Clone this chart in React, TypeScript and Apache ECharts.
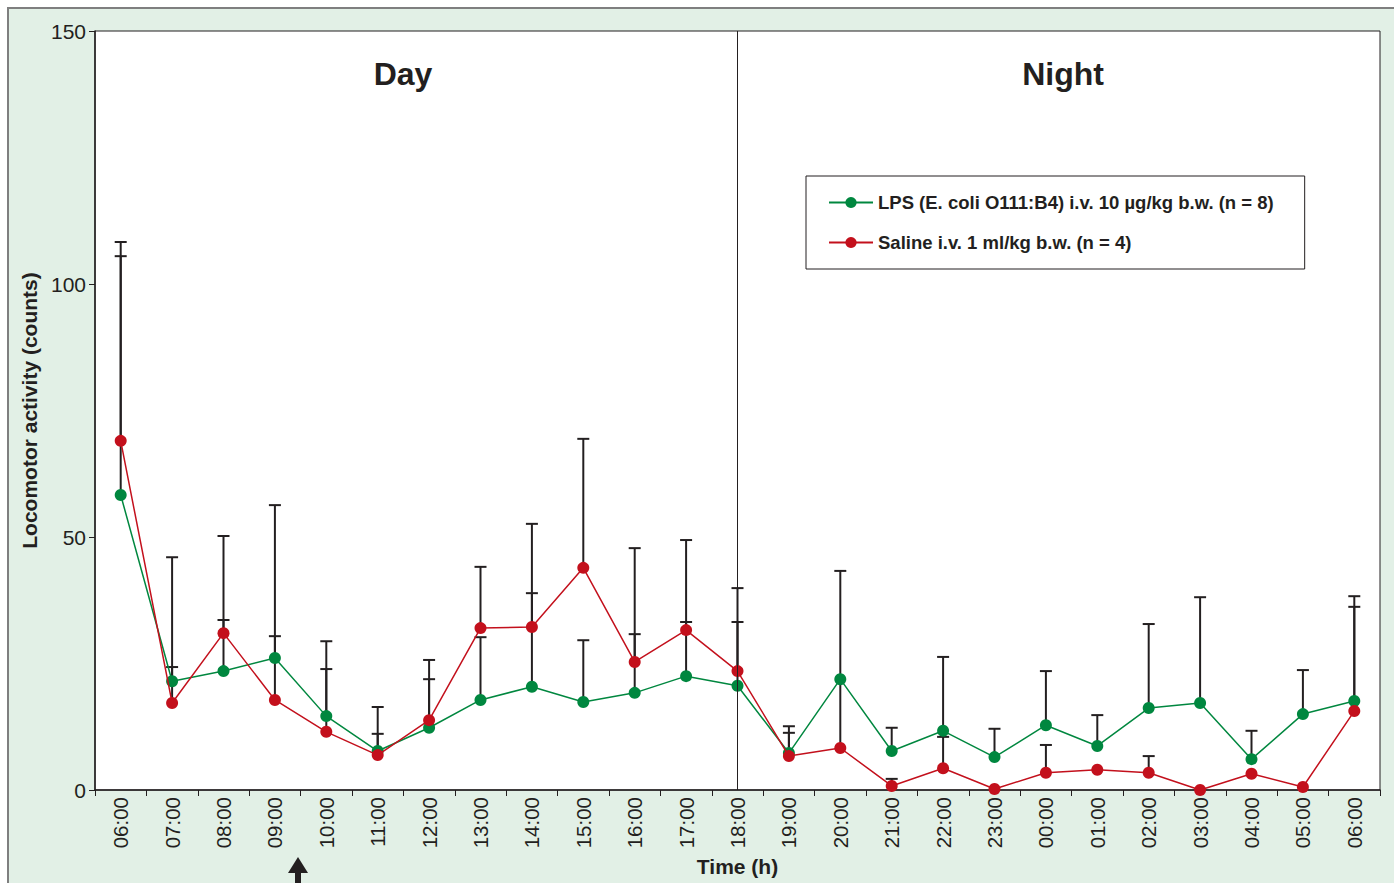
import React, { useEffect, useRef } from "react";
import * as echarts from "echarts";

const categories = [
  "06:00", "07:00", "08:00", "09:00", "10:00", "11:00", "12:00", "13:00", "14:00",
  "15:00", "16:00", "17:00", "18:00", "19:00", "20:00", "21:00", "22:00", "23:00",
  "00:00", "01:00", "02:00", "03:00", "04:00", "05:00", "06:00",
];

const lpsMean = [
  58.3, 21.5, 23.5, 26.1, 14.6, 7.7, 12.3, 17.8, 20.4, 17.4, 19.2, 22.5, 20.6,
  7.3, 21.9, 7.7, 11.7, 6.5, 12.8, 8.7, 16.2, 17.2, 6.1, 15.0, 17.6,
];
const lpsUpper: (number | null)[] = [
  105.5, 46.0, 33.6, 56.3, 29.4, 16.4, 21.9, 30.2, 38.9, 29.6, 30.8, 33.2, 33.2,
  12.6, null, 12.3, 26.3, 12.1, 23.5, 14.8, 32.8, 38.1, 11.7, 23.7, 38.3,
];

const salineMean = [
  69.0, 17.2, 31.0, 17.8, 11.5, 6.9, 13.8, 32.0, 32.2, 43.9, 25.3, 31.6, 23.5,
  6.7, 8.3, 0.8, 4.3, 0.2, 3.4, 4.0, 3.4, 0.0, 3.2, 0.6, 15.6,
];
const salineUpper: (number | null)[] = [
  108.3, 24.3, 50.2, 30.4, 23.9, 11.1, 25.7, 44.1, 52.6, 69.4, 47.8, 49.4, 39.9,
  11.3, 43.3, 2.2, 10.5, null, 8.9, null, 6.7, null, null, null, 36.2,
];

const yTicks = [0, 50, 100, 150];

const lpsName = "LPS (E. coli O111:B4) i.v. 10 µg/kg b.w. (n = 8)";
const salineName = "Saline i.v. 1 ml/kg b.w. (n = 4)";

const GREEN = "#00873f";
const RED = "#c3101c";
const INK = "#231f20";
const FONT = "Arial, 'Liberation Sans', Helvetica, sans-serif";

function errorData(mean: number[], upper: (number | null)[]) {
  const out: number[][] = [];
  mean.forEach((m, i) => {
    const u = upper[i];
    if (u !== null && u !== undefined) out.push([i, m, u]);
  });
  return out;
}

function errorRender(params: any, api: any) {
  const i = api.value(0);
  const p0 = api.coord([i, api.value(1)]);
  const p1 = api.coord([i, api.value(2)]);
  const half = 6;
  const st = { stroke: INK, lineWidth: 2 };
  return {
    type: "group",
    children: [
      { type: "line", shape: { x1: p0[0], y1: p0[1], x2: p1[0], y2: p1[1] }, style: st },
      { type: "line", shape: { x1: p1[0] - half, y1: p1[1], x2: p1[0] + half, y2: p1[1] }, style: st },
    ],
  };
}

export default function App() {
  const ref = useRef<HTMLDivElement>(null);
  useEffect(() => {
    if (!ref.current) return;
    const chart = echarts.init(ref.current, undefined, { renderer: "svg" });
    chart.setOption({
      animation: false,
      backgroundColor: "#ffffff",
      textStyle: { fontFamily: FONT, color: INK },
      graphic: [
        {
          type: "rect",
          z: -10,
          silent: true,
          shape: { x: 8, y: 8, width: 1400, height: 900 },
          style: { fill: "#e2f0e6", stroke: "#7f7f7f", lineWidth: 2 },
        },
        {
          type: "text",
          x: 403,
          y: 74,
          style: { text: "Day", font: `bold 32px ${FONT}`, fill: INK, align: "center", verticalAlign: "middle" },
        },
        {
          type: "text",
          x: 1063,
          y: 74,
          style: { text: "Night", font: `bold 32px ${FONT}`, fill: INK, align: "center", verticalAlign: "middle" },
        },
        {
          type: "polygon",
          shape: {
            points: [
              [298, 857], [308, 873], [301, 873], [301, 890], [295, 890], [295, 873], [288, 873],
            ],
          },
          style: { fill: INK },
        },
      ],
      grid: {
        left: 95,
        top: 31,
        width: 1285,
        height: 759,
        show: true,
        backgroundColor: "#ffffff",
        borderColor: INK,
        borderWidth: 1,
      },
      legend: {
        orient: "vertical",
        left: 806,
        top: 176,
        padding: [17, 31, 17, 22],
        itemGap: 21,
        itemWidth: 44,
        itemHeight: 14,
        backgroundColor: "#ffffff",
        borderColor: INK,
        borderWidth: 1,
        textStyle: { fontFamily: FONT, fontWeight: "bold", fontSize: 18.5, color: INK },
        data: [lpsName, salineName],
      },
      xAxis: {
        type: "category",
        data: categories,
        boundaryGap: true,
        name: "Time (h)",
        nameLocation: "middle",
        nameGap: 66,
        nameTextStyle: { fontFamily: FONT, fontWeight: "bold", fontSize: 21, color: INK },
        axisLine: { lineStyle: { color: INK, width: 1.5 } },
        axisTick: { show: true, length: 6, lineStyle: { color: INK }, alignWithLabel: false },
        axisLabel: { rotate: 90, fontSize: 20.5, color: INK, margin: 7, fontFamily: FONT, interval: 0 },
        splitLine: { show: false },
      },
      yAxis: {
        type: "value",
        min: 0,
        max: 150,
        interval: 50,
        name: "Locomotor activity (counts)",
        nameLocation: "middle",
        nameGap: 51,
        nameTextStyle: { fontFamily: FONT, fontWeight: "bold", fontSize: 21, color: INK },
        axisLine: { show: true, lineStyle: { color: INK, width: 1.5 } },
        axisTick: { show: true, length: 6, lineStyle: { color: INK } },
        axisLabel: {
          fontSize: 21,
          color: INK,
          margin: 9,
          fontFamily: FONT,
          formatter: (v: number) => (yTicks.includes(v) ? String(v) : ""),
        },
        splitLine: { show: false },
      },
      series: [
        {
          type: "custom",
          name: "lpsErr",
          z: 1,
          renderItem: errorRender,
          data: errorData(lpsMean, lpsUpper),
          encode: { x: 0, y: [1, 2] },
          silent: true,
        },
        {
          type: "custom",
          name: "salErr",
          z: 1,
          renderItem: errorRender,
          data: errorData(salineMean, salineUpper),
          encode: { x: 0, y: [1, 2] },
          silent: true,
        },
        {
          type: "line",
          name: lpsName,
          z: 3,
          data: lpsMean,
          symbol: "circle",
          symbolSize: 12,
          itemStyle: { color: GREEN },
          lineStyle: { color: GREEN, width: 1.5 },
          markLine: {
            silent: true,
            symbol: "none",
            label: { show: false },
            lineStyle: { color: INK, width: 1, type: "solid" },
            data: [{ xAxis: 12 }],
          },
        },
        {
          type: "line",
          name: salineName,
          z: 4,
          data: salineMean,
          symbol: "circle",
          symbolSize: 12,
          itemStyle: { color: RED },
          lineStyle: { color: RED, width: 1.5 },
        },
      ],
    });
    return () => chart.dispose();
  }, []);
  return (
    <div
      ref={ref}
      style={{ position: "fixed", left: 0, top: 0, width: 1394, height: 883 }}
    />
  );
}
